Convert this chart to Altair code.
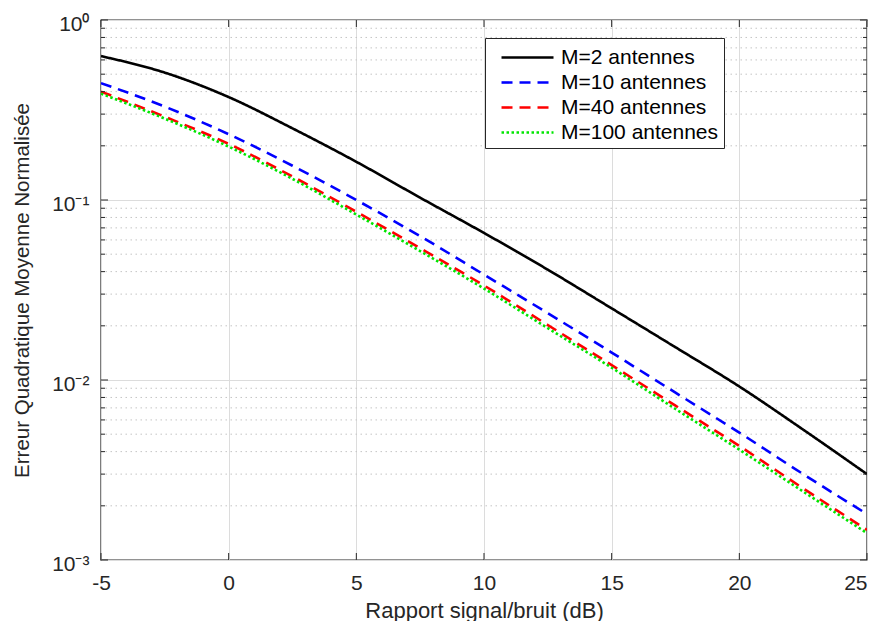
import altair as alt
import pandas as pd

snr_db = [-5, -2.5, 0, 2.5, 5, 7.5, 10, 12.5, 15, 17.5, 20, 22.5, 25]
series_names = ["M=2 antennes", "M=10 antennes", "M=40 antennes", "M=100 antennes"]
nmse_m2 = [0.63, 0.51, 0.373, 0.25, 0.163, 0.103, 0.0656, 0.041, 0.025, 0.0152, 0.0092, 0.0053, 0.0030]
nmse_m10 = [0.446, 0.33, 0.232, 0.155, 0.100, 0.063, 0.0385, 0.0235, 0.0142, 0.0085, 0.0051, 0.0030, 0.0018]
nmse_m40 = [0.40, 0.29, 0.205, 0.135, 0.086, 0.054, 0.0335, 0.0202, 0.0121, 0.0072, 0.0043, 0.0025, 0.00147]
nmse_m100 = [0.39, 0.283, 0.198, 0.131, 0.083, 0.052, 0.0322, 0.0194, 0.0117, 0.0069, 0.0041, 0.0024, 0.00141]

x_ticks = [-5, 0, 5, 10, 15, 20, 25]
y_ticks = [0.001, 0.01, 0.1, 1]
y_tick_labels = ["10⁻³", "10⁻²", "10⁻¹", "10⁰"]
y_minor = [k * d for d in [0.001, 0.01, 0.1] for k in range(2, 10)]

colors = ["#000000", "#0000ff", "#ff0000", "#00e600"]
dashes = [[1, 0], [11, 7], [11, 7], [2.5, 2.5]]

rows = []
for name, vals in zip(series_names, [nmse_m2, nmse_m10, nmse_m40, nmse_m100]):
    for x, v in zip(snr_db, vals):
        rows.append({"snr": x, "nmse": v, "serie": name})
df = pd.DataFrame(rows)

W, H = 766, 540
FONT = "Liberation Sans"
TXT = "#262626"

label_expr = ""
for v, l in zip(y_ticks[::-1], y_tick_labels[::-1]):
    label_expr += f"datum.value > {v*0.5} ? '{l}' : "
label_expr += f"'{y_tick_labels[0]}'"

xscale = alt.Scale(domain=[-5, 25], nice=False, zero=False)
yscale = alt.Scale(type="log", domain=[0.001, 1], nice=False)

minor_df = pd.DataFrame({"v": y_minor})
xt_df = pd.DataFrame({"x": x_ticks})
yt_df = pd.DataFrame({"y": y_ticks})

minor_grid = alt.Chart(minor_df).mark_rule(color="#c4c4c4", strokeDash=[1.5, 3.5], strokeWidth=1).encode(
    y=alt.Y("v:Q", scale=yscale)
)
minor_tick_l = alt.Chart(minor_df).mark_rule(color=TXT, strokeWidth=1).encode(
    y=alt.Y("v:Q", scale=yscale), x=alt.value(0), x2=alt.value(4)
)
minor_tick_r = alt.Chart(minor_df).mark_rule(color=TXT, strokeWidth=1).encode(
    y=alt.Y("v:Q", scale=yscale), x=alt.value(W - 4), x2=alt.value(W)
)
major_tick_l = alt.Chart(yt_df).mark_rule(color=TXT, strokeWidth=1).encode(
    y=alt.Y("y:Q", scale=yscale), x=alt.value(0), x2=alt.value(7)
)
major_tick_r = alt.Chart(yt_df).mark_rule(color=TXT, strokeWidth=1).encode(
    y=alt.Y("y:Q", scale=yscale), x=alt.value(W - 7), x2=alt.value(W)
)
major_tick_b = alt.Chart(xt_df).mark_rule(color=TXT, strokeWidth=1).encode(
    x=alt.X("x:Q", scale=xscale), y=alt.value(H - 7), y2=alt.value(H)
)
major_tick_t = alt.Chart(xt_df).mark_rule(color=TXT, strokeWidth=1).encode(
    x=alt.X("x:Q", scale=xscale), y=alt.value(0), y2=alt.value(7)
)

leg = dict(
    title=None, orient="none", legendX=384, legendY=18,
    symbolType="M-0.23,0L3.77,0", symbolSize=676, symbolStrokeWidth=2.6,
    labelFont=FONT, labelFontSize=21, labelColor="#000000",
    strokeColor=TXT, fillColor="white", padding=5, rowPadding=0, labelOffset=42,
)

lines = alt.Chart(df).mark_line(strokeWidth=2.6, clip=True, interpolate="monotone").encode(
    x=alt.X(
        "snr:Q",
        scale=xscale,
        axis=alt.Axis(
            values=x_ticks, labelExpr="'' + datum.value", title="Rapport signal/bruit (dB)",
            grid=True, gridColor="#dcdcdc", ticks=False, domain=False, labelPadding=12, titlePadding=7,
            labelFontSize=21, titleFontSize=22, labelFlush=False, labelOverlap=False,
            labelAlign={"condition": {"test": f"datum.value >= {x_ticks[-1]}", "value": "right"}, "value": "center"},
        ),
    ),
    y=alt.Y(
        "nmse:Q",
        scale=yscale,
        axis=alt.Axis(
            values=y_ticks, labelExpr=label_expr, title="Erreur Quadratique Moyenne Normalisée",
            grid=True, gridColor="#dcdcdc", ticks=False, domain=False, labelPadding=12, titlePadding=19,
            labelFontSize=21, titleFontSize=20.5, labelFlush=False, labelOffset=4, labelOverlap=False,
        ),
    ),
    color=alt.Color(
        "serie:N",
        scale=alt.Scale(domain=series_names, range=colors),
        sort=series_names,
        legend=alt.Legend(**leg),
    ),
    strokeDash=alt.StrokeDash(
        "serie:N",
        scale=alt.Scale(domain=series_names, range=dashes),
        sort=series_names,
        legend=alt.Legend(**leg),
    ),
)

chart = alt.layer(
    minor_grid, lines, minor_tick_l, minor_tick_r, major_tick_l, major_tick_r, major_tick_b, major_tick_t
).properties(
    width=W, height=H,
    background="white",
    autosize=alt.AutoSizeParams(type="none"),
    padding={"left": 93, "top": 12, "right": 6, "bottom": 61},
).configure_view(
    stroke=TXT, strokeWidth=1.4
).configure_axis(
    labelFont=FONT, titleFont=FONT,
    labelColor=TXT, titleColor=TXT, titleFontWeight="normal",
)

chart.save("out.html", embed_options={"renderer": "svg", "actions": False})
